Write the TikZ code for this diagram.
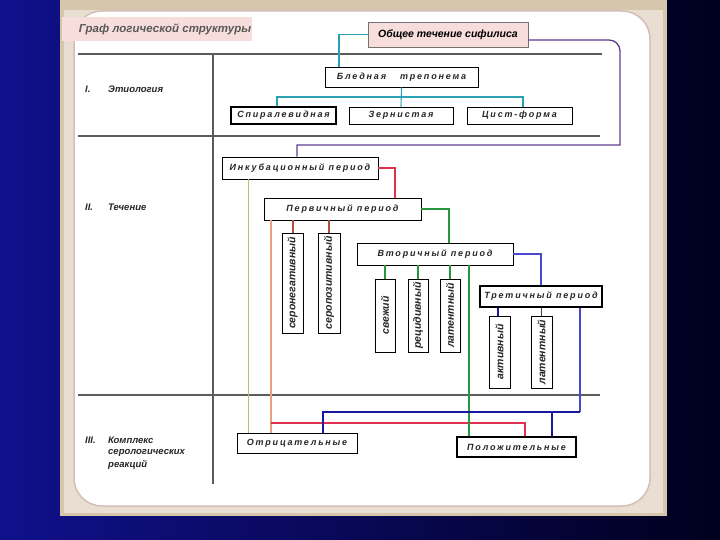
\documentclass[tikz,border=0pt]{standalone}
\usepackage{fontspec}
\setmainfont{Liberation Sans}
\newfontfamily\spc[LetterSpace=20]{Liberation Sans}
\usetikzlibrary{calc}
\definecolor{bgl}{RGB}{16,16,140}
\definecolor{bgr}{RGB}{0,0,30}
\definecolor{tanc}{RGB}{214,198,172}
\definecolor{beigec}{RGB}{232,222,210}
\definecolor{framec}{RGB}{214,190,182}
\definecolor{tabpink}{RGB}{247,221,220}
\definecolor{gridc}{RGB}{92,92,92}
\definecolor{cyanl}{RGB}{42,160,180}
\definecolor{purpl}{RGB}{96,60,144}
\definecolor{redl}{RGB}{224,48,80}
\definecolor{greenl}{RGB}{42,150,64}
\definecolor{brownl}{RGB}{176,80,64}
\definecolor{salmonl}{RGB}{232,160,128}
\definecolor{olivel}{RGB}{184,192,112}
\definecolor{bluel}{RGB}{72,72,208}
\definecolor{navyl}{RGB}{24,24,160}
\definecolor{darkl}{RGB}{60,60,96}
\newcommand\labf{\fontsize{9.5}{11}\selectfont\bfseries\itshape}
\newcommand\boxtxt{\spc\fontsize{9}{10}\selectfont\bfseries\itshape}
\newcommand\vtxt{\fontsize{10.5}{12}\selectfont\bfseries\itshape}
\begin{document}
\begin{tikzpicture}[x=1pt,y=-1pt,
  bx/.style={draw=black, line width=0.9pt, fill=white, inner sep=0pt, font=\boxtxt, text=black!85},
  bxk/.style={bx, line width=1.8pt},
  vb/.style={draw=black, line width=0.9pt, fill=white, inner sep=0pt, font=\vtxt, text=black!85},
  lab/.style={font=\labf, text=black!85, inner sep=0pt, anchor=west},
  gridline/.style={draw=gridc, line width=2.5pt},
  conn/.style={line width=1.1pt}]
\useasboundingbox (0,0) rectangle (720,540);
% background
\shade[left color=bgl, right color=bgr] (0,0) rectangle (720,540);
\fill[tanc] (60,0) rectangle (667,516);
\fill[beigec] (64,10) rectangle (663,513);
\draw[framec, line width=1.5pt, fill=white, rounded corners=28pt] (74,11) rectangle (650,506);
\fill[tabpink] (62,17) rectangle (252,41);
\node[inner sep=0pt, font=\fontsize{11.5}{13}\selectfont\bfseries\itshape, text=black!65] (title) at (165,29) {Граф логической структуры};
% grid
\draw[gridline] (78,54) -- (602,54);
\draw[gridline] (78,136) -- (600,136);
\draw[gridline] (78,395) -- (600,395);
\draw[gridline] (213,54) -- (213,484);
% labels
\node[lab] (n1) at (85,89) {I.};
\node[lab] (t1) at (108,89) {Этиология};
\node[lab] (n2) at (85,207) {II.};
\node[lab] (t2) at (108,207) {Течение};
\node[lab] (n3) at (85,440) {III.};
\node[lab] (t3a) at (108,440) {Комплекс};
\node[lab] (t3b) at (108,452.5) {серологических};
\node[lab] (t3c) at (108,465) {реакций};
% nodes
\node[draw=black!55, line width=0.8pt, fill=tabpink, minimum width=160, minimum height=25, inner sep=0pt,
      font=\fontsize{10.5}{12}\selectfont\bfseries\itshape] (obsh) at (448,34.5) {Общее течение сифилиса};
\node[bx, minimum width=153, minimum height=20] (bl) at (401.5,77) {Бледная\hspace{14pt}трепонема};
\node[bxk, minimum width=105, minimum height=17] (sp) at (283.5,115.5) {Спиралевидная};
\node[bx, minimum width=104, minimum height=17] (zer) at (401,115.5) {Зернистая};
\node[bx, minimum width=105, minimum height=17] (cist) at (519.5,115.5) {Цист-форма};
\node[bx, minimum width=156, minimum height=22] (ink) at (300,168) {Инкубационный период};
\node[bx, minimum width=157, minimum height=22] (perv) at (342.5,209) {Первичный период};
\node[vb, minimum width=21, minimum height=100] (sneg) at (292.5,283) {\rotatebox{90}{серонегативный}};
\node[vb, minimum width=22, minimum height=100] (spoz) at (329,283) {\rotatebox{90}{серопозитивный}};
\node[bx, minimum width=156, minimum height=22] (vtor) at (435,254) {Вторичный период};
\node[vb, minimum width=20, minimum height=73] (svezh) at (385,315.5) {\rotatebox{90}{свежий}};
\node[vb, minimum width=20, minimum height=73] (recid) at (418,315.5) {\rotatebox{90}{рецидивный}};
\node[vb, minimum width=20, minimum height=73] (lat1) at (450,315.5) {\rotatebox{90}{латентный}};
\node[bx, line width=1.3pt, minimum width=122, minimum height=21] (tret) at (541,296.5) {Третичный период};
\node[vb, minimum width=21, minimum height=72] (akt) at (499.5,352) {\rotatebox{90}{активный}};
\node[vb, minimum width=21, minimum height=72] (lat2) at (541.5,352) {\rotatebox{90}{латентный}};
\node[bx, minimum width=120, minimum height=20] (otr) at (297,443) {Отрицательные};
\node[bxk, minimum width=119, minimum height=20] (pol) at (516.5,447) {Положительные};
% junction coordinates
\coordinate (cj) at (400,97);
\coordinate (rj) at (271,423);
\coordinate (bj) at (580,412);
% connectors
\draw[conn, cyanl] (obsh.west) -| ([xshift=-62.5pt]bl.north);
\draw[conn, cyanl] (bl.south) -- (zer.north);
\draw[conn, cyanl] ([xshift=-6.5pt]sp.north) |- (cj) -| ([xshift=3.5pt]cist.north);
\draw[conn, purpl, line width=1.3pt, rounded corners=11pt] ([yshift=-5.5pt]obsh.east) -| (620,90) [sharp corners] -- (620,145) -| ([xshift=-3pt]ink.north);
\draw[conn, redl, line width=1.6pt] (ink.east) -| ([xshift=52.5pt]perv.north);
\draw[conn, greenl] (perv.east) -| ([xshift=14pt]vtor.north);
\draw[brownl, line width=2pt] (sneg.north |- perv.south) -- (sneg.north);
\draw[brownl, line width=2pt] (spoz.north |- perv.south) -- (spoz.north);
\draw[conn, greenl, line width=1.5pt] (svezh.north |- vtor.south) -- (svezh.north);
\draw[conn, greenl] (recid.north |- vtor.south) -- (recid.north);
\draw[conn, greenl, line width=1.5pt] (lat1.north |- vtor.south) -- (lat1.north);
\draw[conn, bluel] (vtor.east) -| (tret.north);
\draw[navyl, line width=2.2pt] ([xshift=-1.5pt]akt.north |- tret.south) -- ([xshift=-1.5pt]akt.north);
\draw[conn, darkl] (lat2.north |- tret.south) -- (lat2.north);
\draw[olivel, line width=1pt] ([xshift=-49pt]otr.north |- ink.south) -- ([xshift=-49pt]otr.north);
\draw[salmonl, line width=1.2pt] ([xshift=-26pt]otr.north |- perv.south) -- ([xshift=-26pt]otr.north);
\draw[redl, line width=1.5pt] (rj) -| ([xshift=8.5pt]pol.north);
\draw[conn, greenl] ([xshift=-47.5pt]pol.north |- vtor.south) -- ([xshift=-47.5pt]pol.north);
\draw[conn, bluel] (tret.south -| bj) -- (bj);
\draw[navyl, line width=2pt] (bj) -| ([xshift=26pt]otr.north);
\draw[navyl, line width=2pt] ([xshift=35.5pt]pol.north |- bj) -- ([xshift=35.5pt]pol.north);
\end{tikzpicture}
\end{document}
